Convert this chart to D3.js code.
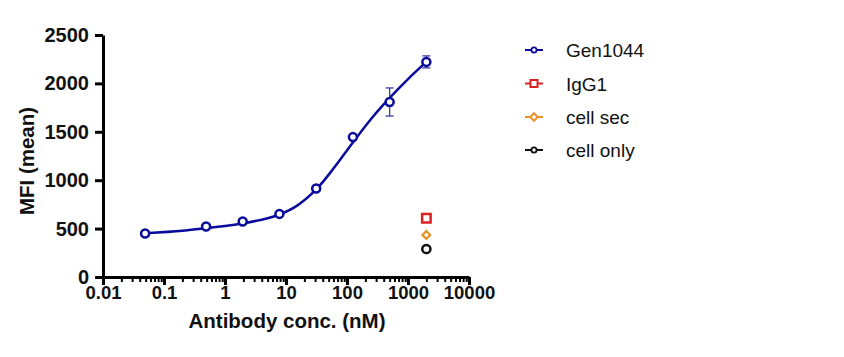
<!DOCTYPE html>
<html><head><meta charset="utf-8">
<script src="https://cdn.jsdelivr.net/npm/d3@7"></script>
<style>
body{margin:0;background:#fff;}
svg{display:block;}
text{font-family:"Liberation Sans",Arial,sans-serif;}
</style></head>
<body><svg id="c" width="844" height="357"></svg>
<script>
// Data
const conc = [0.049, 0.49, 1.95, 7.8, 31.25, 125, 500, 2000];
const gen1044 = [450, 522, 573, 652, 914, 1445, 1808, 2222];
const gen1044Err = [0, 0, 0, 0, 0, 0, 145, 62];
const controlConc = [2000];
const igg1 = [606];
const cellSec = [434];
const cellOnly = [289];
// Fitted curve
const fitX = [0.049, 0.2, 0.5, 1, 2, 5, 8, 15, 31.25, 60, 125, 250, 500, 1000, 2000];
const fitY = [452, 478, 506, 526, 555, 607, 648, 735, 905, 1120, 1390, 1635, 1850, 2045, 2222];
const xTicks = [0.01, 0.1, 1, 10, 100, 1000, 10000];
const xTickLabels = ["0.01", "0.1", "1", "10", "100", "1000", "10000"];
const yTicks = [0, 500, 1000, 1500, 2000, 2500];
const legendNames = ["Gen1044", "IgG1", "cell sec", "cell only"];

const blue = "#0a0a9c", red = "#dd2222", orange = "#e8922a", black = "#111";
const svg = d3.select("#c");
const x = d3.scaleLog().domain([0.01, 10000]).range([103, 469]);
const y = d3.scaleLinear().domain([0, 2500]).range([277, 35]);

// minor ticks
const minor = [];
for (let d = 0.01; d < 10000; d *= 10) for (let k = 2; k <= 9; k++) minor.push(+(d * k).toPrecision(3));
svg.append("g").attr("transform", "translate(0,277)")
  .call(d3.axisBottom(x).tickValues(minor).tickSize(5).tickFormat(""))
  .call(g => { g.select(".domain").remove(); g.selectAll("line").attr("stroke", "#000").attr("stroke-width", 2); });

// x axis
svg.append("g").attr("transform", "translate(0,277)")
  .call(d3.axisBottom(x).tickValues(xTicks).tickSize(8).tickSizeOuter(0)
    .tickFormat((d, i) => xTickLabels[i]))
  .call(g => {
    g.select(".domain").attr("stroke", "#000").attr("stroke-width", 3);
    g.selectAll("line").attr("stroke", "#000").attr("stroke-width", 3);
    g.selectAll("text").attr("y", 21.5).attr("dy", 0).attr("font-size", 18.5).attr("font-weight", "bold").attr("fill", "#111");
  });

// y axis
svg.append("g").attr("transform", "translate(103,0)")
  .call(d3.axisLeft(y).tickValues(yTicks).tickSize(8).tickSizeOuter(0).tickPadding(6).tickFormat(d3.format("d")))
  .call(g => {
    g.select(".domain").attr("stroke", "#000").attr("stroke-width", 3);
    g.selectAll("line").attr("stroke", "#000").attr("stroke-width", 3);
    g.selectAll("text").attr("font-size", 20).attr("font-weight", "bold").attr("fill", "#111");
  });

// axis titles
svg.append("text").attr("x", 287).attr("y", 328).attr("text-anchor", "middle")
  .attr("font-size", 20.5).attr("font-weight", "bold").attr("fill", "#111").text("Antibody conc. (nM)");
svg.append("text").attr("transform", "translate(33.5,161) rotate(-90)").attr("text-anchor", "middle")
  .attr("font-size", 20.5).attr("font-weight", "bold").attr("fill", "#111").text("MFI (mean)");

// fit curve
svg.append("path").datum(fitX.map((v, i) => [v, fitY[i]]))
  .attr("fill", "none").attr("stroke", blue).attr("stroke-width", 2.5)
  .attr("d", d3.line().x(d => x(d[0])).y(d => y(d[1])).curve(d3.curveCatmullRom.alpha(0.5)));

// error bars
conc.forEach((c, i) => {
  if (!gen1044Err[i]) return;
  const cx = x(c), y1 = y(gen1044[i] + gen1044Err[i]), y2 = y(gen1044[i] - gen1044Err[i]);
  const g = svg.append("g").attr("stroke", "#3a3aa8").attr("stroke-width", 1.3);
  g.append("line").attr("x1", cx).attr("x2", cx).attr("y1", y1).attr("y2", y2);
  g.append("line").attr("x1", cx - 4).attr("x2", cx + 4).attr("y1", y1).attr("y2", y1);
  g.append("line").attr("x1", cx - 4).attr("x2", cx + 4).attr("y1", y2).attr("y2", y2);
});

// points
svg.selectAll(".pt").data(conc).enter().append("circle")
  .attr("cx", d => x(d)).attr("cy", (d, i) => y(gen1044[i])).attr("r", 4)
  .attr("fill", "#fff").attr("stroke", blue).attr("stroke-width", 2.5);

function symbol(type, size) { return d3.symbol().type(type).size(size)(); }
svg.selectAll(".igg").data(controlConc).enter().append("path")
  .attr("transform", (d, i) => `translate(${x(d)},${y(igg1[i])})`)
  .attr("d", symbol(d3.symbolSquare, 72)).attr("fill", "#fff").attr("stroke", red).attr("stroke-width", 2.5);
svg.selectAll(".sec").data(controlConc).enter().append("path")
  .attr("transform", (d, i) => `translate(${x(d)},${y(cellSec[i])}) rotate(45)`)
  .attr("d", symbol(d3.symbolSquare, 30)).attr("fill", "#fff").attr("stroke", orange).attr("stroke-width", 2.2);
svg.selectAll(".only").data(controlConc).enter().append("circle")
  .attr("cx", d => x(d)).attr("cy", (d, i) => y(cellOnly[i])).attr("r", 4.1)
  .attr("fill", "#fff").attr("stroke", black).attr("stroke-width", 2.5);

// legend
const legColors = [blue, red, orange, black];
const legY = [50, 83.5, 117, 150];
legendNames.forEach((n, i) => {
  const g = svg.append("g").attr("transform", `translate(534,${legY[i]})`);
  g.append("line").attr("x1", -9).attr("x2", 9).attr("stroke", legColors[i]).attr("stroke-width", 2);
  if (i === 1) g.append("path").attr("d", symbol(d3.symbolSquare, 50)).attr("fill", "#fff").attr("stroke", red).attr("stroke-width", 2);
  else if (i === 2) g.append("path").attr("transform", "rotate(45)").attr("d", symbol(d3.symbolSquare, 28)).attr("fill", "#fff").attr("stroke", orange).attr("stroke-width", 2);
  else g.append("circle").attr("r", 2.6).attr("fill", "#fff").attr("stroke", legColors[i]).attr("stroke-width", 1.8);
  g.append("text").attr("x", 32).attr("y", 7).attr("font-size", 19).attr("fill", "#111").text(n);
});
</script></body></html>
